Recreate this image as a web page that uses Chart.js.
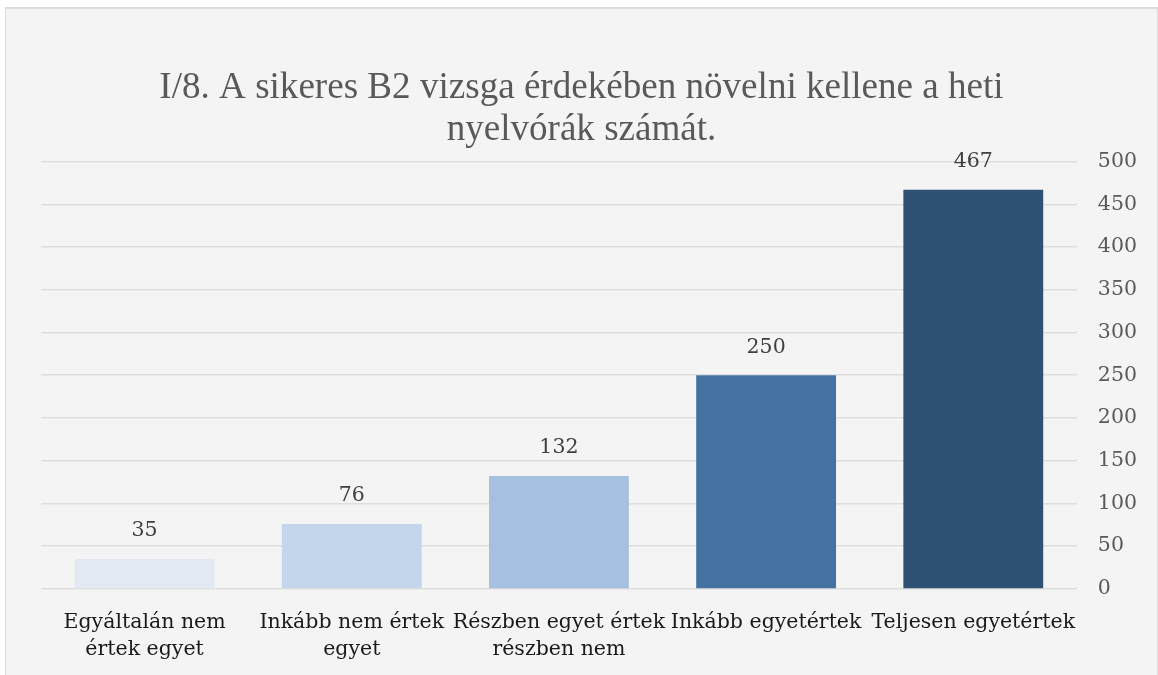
<!DOCTYPE html>
<html>
<head>
<meta charset="utf-8">
<script src="https://cdn.jsdelivr.net/npm/chart.js@4/dist/chart.umd.min.js"></script>
<style>
  html, body { margin: 0; padding: 0; background: #fff; overflow: hidden; }
  #frame {
    position: absolute; left: 5px; top: 7px; width: 1153px; height: 700px;
    background: #f4f4f4; border: 1px solid #dcdcdc; border-top-width: 2px; box-sizing: border-box;
  }
  #wrap { position: absolute; left: 0; top: 0; width: 1158px; height: 675px; }
</style>
</head>
<body>
<div id="frame"></div>
<div id="wrap"><canvas id="myChart" width="1158" height="675"></canvas></div>
<script>
  // data
  const categories = [
    ["Egyáltalán nem", "értek egyet"],
    ["Inkább nem értek", "egyet"],
    ["Részben egyet értek", "részben nem"],
    ["Inkább egyetértek"],
    ["Teljesen egyetértek"],
  ];
  const counts = [35, 76, 132, 250, 467];
  const barColors = ["#e2e9f3", "#c4d6eb", "#a6c0df", "#4572a1", "#2f5174"];
  const yTicks = [0, 50, 100, 150, 200, 250, 300, 350, 400, 450, 500];

  const serif = "'DejaVu Serif', serif";

  // value labels above bars
  const valueLabels = {
    id: "valueLabels",
    afterDatasetsDraw(chart) {
      const ctx = chart.ctx;
      const meta = chart.getDatasetMeta(0);
      ctx.save();
      ctx.font = "20.5px " + serif;
      ctx.fillStyle = "#404040";
      ctx.textAlign = "center";
      ctx.textBaseline = "middle";
      meta.data.forEach((bar, i) => {
        ctx.fillText(String(counts[i]), bar.x, bar.y - 28);
      });
      ctx.restore();
    },
  };

  var ctx = document.getElementById("myChart").getContext("2d");
  var chart = new Chart(ctx, {
    type: "bar",
    data: {
      labels: categories,
      datasets: [
        {
          data: counts,
          backgroundColor: barColors,
          borderWidth: 0,
          barPercentage: 0.675,
          categoryPercentage: 1,
        },
      ],
    },
    options: {
      responsive: false,
      animation: false,
      layout: { padding: { left: 5, right: 0, top: 0, bottom: 0 } },
      plugins: {
        legend: { display: false },
        tooltip: { enabled: false },
        title: {
          display: true,
          text: ["I/8. A sikeres B2 vizsga érdekében növelni kellene a heti", "nyelvórák számát."],
          color: "#595959",
          font: { family: "'Liberation Serif', serif", size: 37.1, weight: "normal", lineHeight: 1.14 },
          padding: { top: 67, bottom: 10 },
        },
      },
      scales: {
        x: {
          grid: { display: false },
          border: { display: false },
          ticks: {
            color: "#1a1a1a",
            font: { family: serif, size: 20.5, lineHeight: 1.32 },
            padding: 12,
            maxRotation: 0,
            autoSkip: false,
          },
        },
        y: {
          position: "right",
          min: 0,
          max: 500,
          afterBuildTicks: (axis) => {
            axis.ticks = yTicks.map((v) => ({ value: v }));
          },
          grid: { color: "#dedede", lineWidth: 1.5, drawTicks: false },
          border: { display: false },
          ticks: {
            color: "#595959",
            font: { family: serif, size: 20.5 },
            padding: 21,
          },
        },
        // empty left gutter, keeps the plot starting where the original does
        gutter: {
          position: "left",
          grid: { display: false },
          border: { display: false },
          ticks: { display: false },
          afterFit: (axis) => {
            axis.width = 36;
          },
        },
      },
    },
    plugins: [valueLabels],
  });
</script>
</body>
</html>
